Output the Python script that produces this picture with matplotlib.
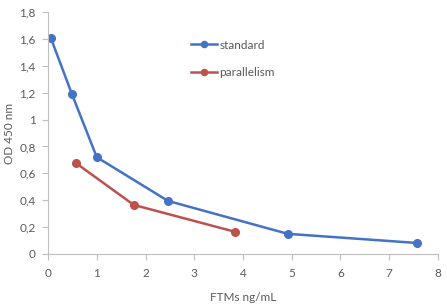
import matplotlib.pyplot as plt

# standard curve
std_x = [0.06, 0.49, 1.0, 2.46, 4.92, 7.57]
std_y = [1.605, 1.19, 0.72, 0.395, 0.15, 0.082]

# parallelism
par_x = [0.57, 1.76, 3.84]
par_y = [0.677, 0.365, 0.165]

xticks = [0, 1, 2, 3, 4, 5, 6, 7, 8]
yticks = [0, 0.2, 0.4, 0.6, 0.8, 1, 1.2, 1.4, 1.6, 1.8]

plt.rcParams['font.family'] = ['Lato', 'DejaVu Sans']
grey = '#595959'

fig = plt.figure(figsize=(4.47, 3.05), dpi=100)
ax = fig.add_axes([48/447, 1 - 254/305, 390/447, 242/305])

ax.plot(std_x, std_y, color='#4472C4', lw=1.8, marker='o', ms=5.5, label='standard')
ax.plot(par_x, par_y, color='#C0504D', lw=1.8, marker='o', ms=5.5, label='parallelism')

ax.set_xlim(0, 8)
ax.set_ylim(0, 1.8)
ax.set_xticks(xticks)
ax.set_yticks(yticks)
ax.set_xticklabels([str(t) for t in xticks])
ax.set_yticklabels([('%g' % t).replace('.', ',') for t in yticks])

for s in ['top', 'right']:
    ax.spines[s].set_visible(False)
for s in ['left', 'bottom']:
    ax.spines[s].set_color('#bfbfbf')
ax.tick_params(colors='#bfbfbf', labelcolor=grey, labelsize=8.5, length=4)
ax.tick_params(axis='x', pad=6)
ax.tick_params(axis='y', pad=5)

ax.set_xlabel('FTMs ng/mL', color=grey, fontsize=8.5)
ax.set_ylabel('OD 450 nm', color=grey, fontsize=8.5)
ax.xaxis.set_label_coords(0.5, -0.155)
ax.yaxis.set_label_coords(-0.085, 0.5)

ax.legend(loc='upper left', bbox_to_anchor=(0.34, 0.93), frameon=False,
          fontsize=8.5, labelcolor=grey, handlelength=2.2, handletextpad=0.2,
          labelspacing=1.4, markerscale=0.8)

plt.savefig('out.png', dpi=100)
